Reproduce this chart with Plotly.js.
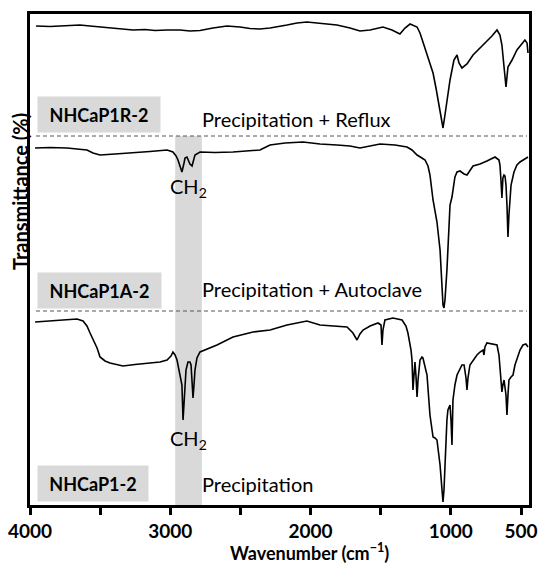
<!DOCTYPE html>
<html>
<head>
<meta charset="utf-8">
<script src="https://cdn.plot.ly/plotly-3.0.1.min.js"></script>
<style>html,body{margin:0;padding:0;background:#fff;}#chart{width:539px;height:565px;}</style>
</head>
<body>
<div id="chart"></div>
<script>
// Wavenumbers (cm-1) and stacked transmittance (arbitrary offset units)
const wnReflux = [3957,3857,3786,3715,3644,3572,3501,3430,3358,3266,3180,3109,3023,2931,2860,2788,2696,2596,2503,2432,2361,2289,2168,2097,2026,1933,1812,1719,1648,1576,1484,1420,1363,1327,1291,1241,1220,1199,1170,1149,1127,1106,1092,1077,1056,1042,1028,1006,992,978,956,942,921,885,842,792,743,707,671,650,636,621,607,593,564,529,500,472,457,450];
const tReflux  = [479,478.5,479,479.5,480,479,478,477,476,475,475.5,474.5,475,475,474,474.5,477,479,478,476.5,476,477,480,482,483,481.5,480,477,474,475,478,475,471,477,481,478,472,463,450,440,432,417,405,393,377,390,405,425,435,445,450,442,437,441,450,457,463,469,475,470,460,435,418,438,445,455,460,465,462,452];

const wnAuto = [3964,3857,3736,3644,3594,3551,3501,3394,3266,3145,3023,2981,2959,2945,2931,2917,2902,2895,2881,2874,2860,2845,2831,2824,2788,2681,2553,2432,2361,2289,2182,2054,1933,1812,1719,1648,1576,1505,1398,1313,1277,1241,1206,1184,1163,1149,1127,1113,1106,1099,1077,1063,1056,1049,1042,1028,1021,1006,992,971,956,935,906,885,842,792,743,685,657,650,643,636,629,621,614,607,600,593,586,571,550,529,507,486,465,450];
const tAuto  = [357,357.5,357,356,355,352,350,351,352,353.5,355,353,349,345,339,333,342,347,348,345,341,339,345,350,353,352.5,353,354,355,360,362,363,361,360,359,357,359,361,360,358,355,350,347,345,339,330,305,293,287,283,255,225,200,197,205,235,255,300,308,328,333,334,331,330,339,341,344,348,345,340,325,307,327,330,329,320,300,268,290,320,333,340,343,345,347,348];

const wnPrecip = [3964,3857,3751,3665,3622,3594,3572,3544,3522,3501,3465,3430,3337,3252,3145,3073,3023,2995,2981,2966,2952,2938,2931,2924,2917,2909,2902,2895,2888,2874,2860,2852,2845,2838,2831,2824,2810,2788,2667,2553,2410,2289,2168,2075,2026,1933,1826,1740,1698,1669,1648,1626,1576,1519,1498,1491,1484,1470,1413,1348,1320,1306,1284,1277,1270,1263,1256,1249,1241,1234,1220,1206,1199,1170,1149,1127,1113,1099,1077,1063,1056,1049,1035,1028,1021,1006,999,992,985,971,956,935,921,906,892,885,878,864,842,814,792,771,764,757,743,707,671,657,650,636,629,621,607,600,593,586,571,557,543,522,507,486,465,450];
const tPrecip  = [183,184,185,186,184,179,172,164,157,148,144,142,139,140.5,142,143,145,149,153,150,145,135,133,125,120,85,105,125,135,143,143,140,125,107,120,135,147,153,160,168,173,175,180,183,184,180,179,178,172,165,171,175,179,182,180,160,175,185,187,185,179,172,155,145,115,135,143,130,108,125,145,148,147,130,90,68,67,65,40,15,3,15,65,85,95,100,85,60,105,120,130,137,140,140,127,115,127,140,145,150,153,155,150,158,162,161,160,150,135,113,120,125,110,90,110,125,128,130,140,150,155,160,161,158];

const xTickVals = [4000,3000,2000,1000,500];
const xTickText = ['4000','3000','2000','1000','500'];
const xMinorVals = [3500,2500,1500];

const sampleNames = ['NHCaP1R-2','NHCaP1A-2','NHCaP1-2'];
const methodNames = ['Precipitation + Reflux','Precipitation + Autoclave','Precipitation'];
const separatorLevels = [369,194];
const ch2Band = [2965,2775];

const FONT = 'Lato, "Open Sans", sans-serif';
const lineStyle = {color:'#000', width:1.6};

const traces = [
  {x:wnReflux, y:tReflux, mode:'lines', line:lineStyle, hoverinfo:'skip'},
  {x:wnAuto, y:tAuto, mode:'lines', line:lineStyle, hoverinfo:'skip'},
  {x:wnPrecip, y:tPrecip, mode:'lines', line:lineStyle, hoverinfo:'skip'}
];

const shapes = [
  {type:'rect', xref:'x', yref:'y', x0:ch2Band[0], x1:ch2Band[1], y0:0, y1:separatorLevels[0], fillcolor:'#d9d9d9', line:{width:0}, layer:'below'}
];
separatorLevels.forEach(lv => shapes.push({type:'line', xref:'paper', yref:'y', x0:0.012, x1:0.996, y0:lv, y1:lv, line:{color:'#555', width:1, dash:'4px,3px'}}));

const boxTop = [409,233,40];
const boxW = [122,123,110];
const methodY = [386,216,21];
const annotations = [];
sampleNames.forEach((s,i) => {
  annotations.push({xref:'paper', yref:'y', x:0.014, y:boxTop[i], xanchor:'left', yanchor:'top', text:'<b>'+s+'</b>', showarrow:false, bgcolor:'#d9d9d9', width:boxW[i], height:35, borderpad:0, align:'center', font:{family:FONT, size:18, color:'#000'}});
  annotations.push({xref:'paper', yref:'y', x:0.341, y:methodY[i], xanchor:'left', yanchor:'middle', text:methodNames[i], showarrow:false, font:{family:FONT, size:20, color:'#000'}});
});
[318,66].forEach(yv => annotations.push({xref:'x', yref:'y', x:3015, y:yv, xanchor:'left', yanchor:'middle', text:'CH<sub>2</sub>', showarrow:false, font:{family:FONT, size:20, color:'#000'}}));
annotations.push({xref:'paper', yref:'y', x:-0.02, y:313, xanchor:'center', yanchor:'middle', textangle:-90, text:'<b>Transmittance (%)</b>', showarrow:false, font:{family:FONT, size:20, color:'#000'}});
annotations.push({xref:'paper', yref:'paper', x:0.561, y:-0.096, xanchor:'center', yanchor:'middle', text:'<b>Wavenumber (cm<sup>\u22121</sup>)</b>', showarrow:false, font:{family:FONT, size:18, color:'#000'}});

const layout = {
  width:539, height:565,
  margin:{l:30, r:10, t:14, b:60},
  paper_bgcolor:'#fff', plot_bgcolor:'#fff',
  showlegend:false,
  xaxis:{range:[4000,443], tickmode:'array', tickvals:xTickVals, ticktext:xTickText, ticks:'outside', ticklen:7, tickwidth:3, tickcolor:'#000',
         minor:{tickmode:'array', tickvals:xMinorVals, ticks:'outside', ticklen:7, tickwidth:3, tickcolor:'#000', showgrid:false},
         showline:true, linewidth:3, linecolor:'#000', mirror:true, showgrid:false, zeroline:false,
         tickfont:{family:FONT, size:19, color:'#000', weight:'bold'}},
  yaxis:{range:[0,491], showticklabels:false, ticks:'', showline:true, linewidth:3, linecolor:'#000', mirror:true, showgrid:false, zeroline:false},
  shapes:shapes,
  annotations:annotations
};

Plotly.newPlot('chart', traces, layout, {staticPlot:true, displayModeBar:false});
</script>
</body>
</html>
